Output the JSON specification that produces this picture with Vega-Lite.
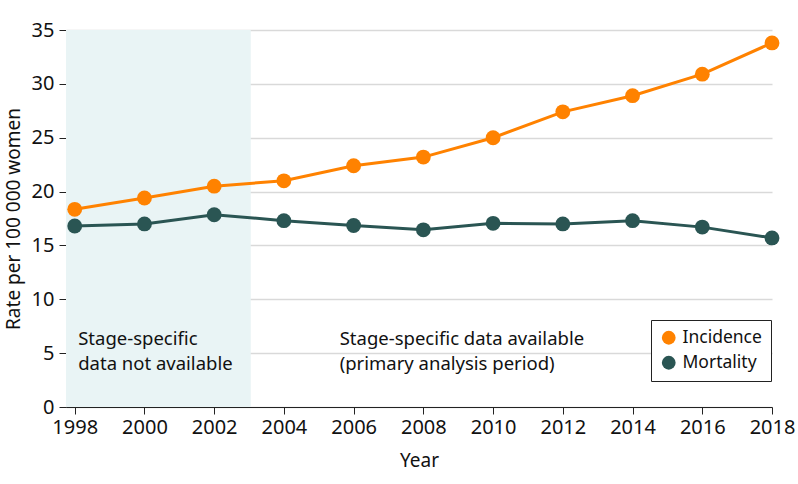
{
  "$schema": "https://vega.github.io/schema/vega-lite/v6.json",
  "width": 706,
  "height": 377,
  "autosize": {"type": "none"},
  "padding": {"left": 66, "top": 30, "right": 26, "bottom": 77},
  "background": "white",
  "config": {
    "font": "Noto Sans",
    "view": {"stroke": null},
    "axis": {"labelFont": "Noto Sans", "titleFont": "Noto Sans", "labelFontSize": 20, "titleFontSize": 19, "titleFontWeight": "normal", "labelColor": "#111", "titleColor": "#111", "domainColor": "#222", "tickColor": "#222", "tickSize": 7, "labelFlush": false, "labelOverlap": false, "labelBound": false}
  },
  "datasets": {
    "series": [
      {"year": 1998, "rate": 18.35, "measure": "Incidence"},
      {"year": 2000, "rate": 19.4, "measure": "Incidence"},
      {"year": 2002, "rate": 20.5, "measure": "Incidence"},
      {"year": 2004, "rate": 21.0, "measure": "Incidence"},
      {"year": 2006, "rate": 22.4, "measure": "Incidence"},
      {"year": 2008, "rate": 23.2, "measure": "Incidence"},
      {"year": 2010, "rate": 25.0, "measure": "Incidence"},
      {"year": 2012, "rate": 27.4, "measure": "Incidence"},
      {"year": 2014, "rate": 28.9, "measure": "Incidence"},
      {"year": 2016, "rate": 30.9, "measure": "Incidence"},
      {"year": 2018, "rate": 33.8, "measure": "Incidence"},
      {"year": 1998, "rate": 16.8, "measure": "Mortality"},
      {"year": 2000, "rate": 17.0, "measure": "Mortality"},
      {"year": 2002, "rate": 17.85, "measure": "Mortality"},
      {"year": 2004, "rate": 17.3, "measure": "Mortality"},
      {"year": 2006, "rate": 16.85, "measure": "Mortality"},
      {"year": 2008, "rate": 16.45, "measure": "Mortality"},
      {"year": 2010, "rate": 17.05, "measure": "Mortality"},
      {"year": 2012, "rate": 17.0, "measure": "Mortality"},
      {"year": 2014, "rate": 17.3, "measure": "Mortality"},
      {"year": 2016, "rate": 16.7, "measure": "Mortality"},
      {"year": 2018, "rate": 15.7, "measure": "Mortality"}
    ],
    "periods": [
      {"start": 1997.75, "end": 2003.05}
    ],
    "notes": [
      {"year": 1998.1, "rate": 6.3, "note": "Stage-specific"},
      {"year": 1998.1, "rate": 4.0, "note": "data not available"},
      {"year": 2005.6, "rate": 6.3, "note": "Stage-specific data available"},
      {"year": 2005.6, "rate": 4.0, "note": "(primary analysis period)"}
    ]
  },
  "layer": [
    {
      "data": {"name": "periods"},
      "mark": {"type": "rect", "color": "#E9F4F5"},
      "encoding": {
        "x": {"field": "start", "type": "quantitative"},
        "x2": {"field": "end"},
        "y": {"datum": 0, "type": "quantitative"},
        "y2": {"datum": 35}
      }
    },
    {
      "data": {"name": "series"},
      "mark": {"type": "line", "strokeWidth": 3},
      "encoding": {
        "x": {
          "field": "year", "type": "quantitative",
          "scale": {"domain": [1997.75, 2018], "nice": false, "zero": false},
          "axis": {"values": [1998, 2000, 2002, 2004, 2006, 2008, 2010, 2012, 2014, 2016, 2018], "format": "d", "title": "Year", "grid": false, "labelPadding": 3, "titlePadding": 14}
        },
        "y": {
          "field": "rate", "type": "quantitative",
          "scale": {"domain": [0, 35], "nice": false},
          "axis": {"values": [0, 5, 10, 15, 20, 25, 30, 35], "title": "Rate per 100 000 women", "grid": true, "gridColor": "#D9D9D9", "gridWidth": 1.5, "labelPadding": 5, "titlePadding": 8}
        },
        "color": {
          "field": "measure", "type": "nominal",
          "scale": {"domain": ["Incidence", "Mortality"], "range": ["#FF8200", "#2A5553"]}
        }
      }
    },
    {
      "data": {"name": "series"},
      "mark": {"type": "point", "filled": true, "size": 220, "opacity": 1},
      "encoding": {
        "x": {"field": "year", "type": "quantitative"},
        "y": {"field": "rate", "type": "quantitative"},
        "color": {
          "field": "measure", "type": "nominal",
          "scale": {"domain": ["Incidence", "Mortality"], "range": ["#FF8200", "#2A5553"]},
          "legend": {
            "title": null, "orient": "none", "legendX": 585, "legendY": 290,
            "strokeColor": "#222", "padding": 9, "fillColor": "white",
            "labelFontSize": 17.5, "labelFont": "Noto Sans", "labelColor": "#111",
            "symbolType": "circle", "symbolSize": 190, "symbolOpacity": 1, "symbolStrokeWidth": 0, "rowPadding": 6, "labelOffset": 5
          }
        }
      }
    },
    {
      "data": {"name": "notes"},
      "mark": {"type": "text", "align": "left", "baseline": "middle", "fontSize": 18.5, "font": "Noto Sans", "color": "#111"},
      "encoding": {
        "x": {"field": "year", "type": "quantitative"},
        "y": {"field": "rate", "type": "quantitative"},
        "text": {"field": "note"}
      }
    }
  ]
}
